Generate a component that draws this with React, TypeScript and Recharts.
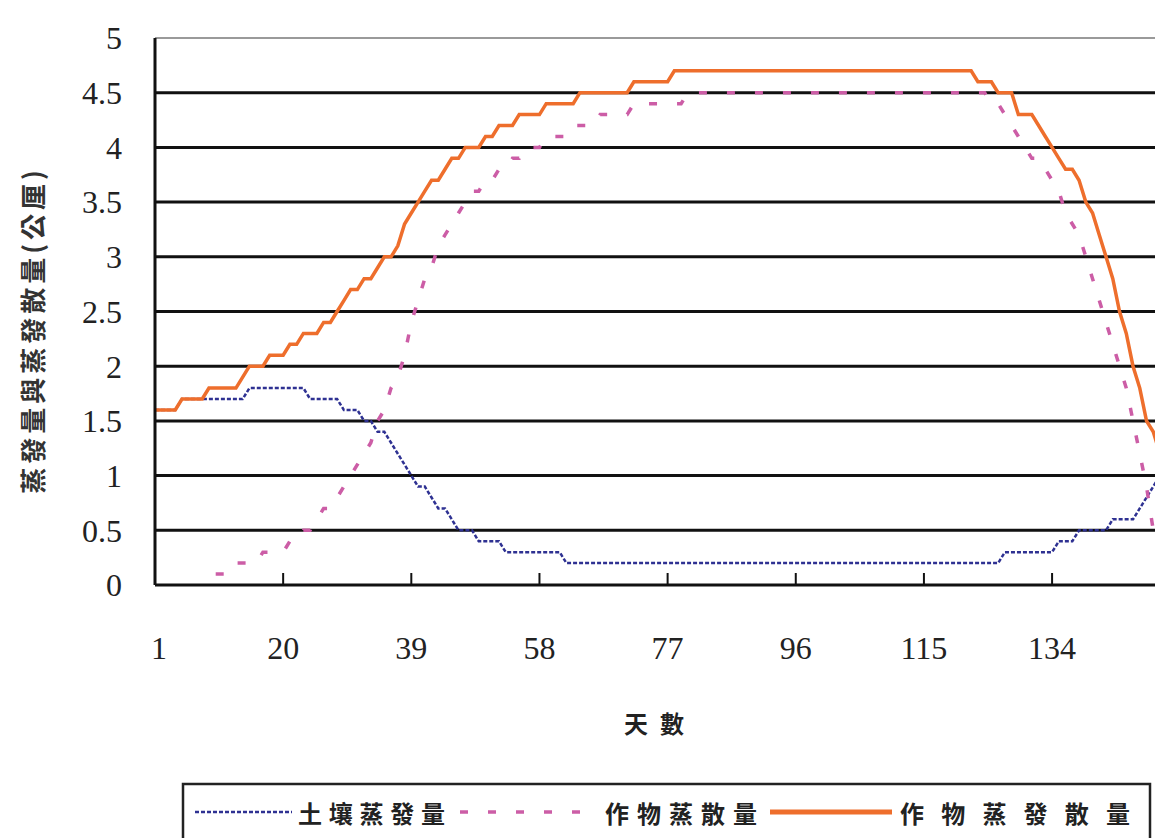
import React from "react";
import {
  LineChart,
  Line,
  XAxis,
  YAxis,
  ReferenceLine,
} from "recharts";

// 土壤蒸發量 (soil evaporation), one value per day starting at day 1
const soilEvap = [
  1.6, 1.6, 1.6, 1.6, 1.7, 1.7, 1.7, 1.7, 1.7, 1.7,
  1.7, 1.7, 1.7, 1.7, 1.8, 1.8, 1.8, 1.8, 1.8, 1.8,
  1.8, 1.8, 1.8, 1.7, 1.7, 1.7, 1.7, 1.7, 1.6, 1.6,
  1.6, 1.5, 1.5, 1.4, 1.4, 1.3, 1.2, 1.1, 1.0, 0.9,
  0.9, 0.8, 0.7, 0.7, 0.6, 0.5, 0.5, 0.5, 0.4, 0.4,
  0.4, 0.4, 0.3, 0.3, 0.3, 0.3, 0.3, 0.3, 0.3, 0.3,
  0.3, 0.2, 0.2, 0.2, 0.2, 0.2, 0.2, 0.2, 0.2, 0.2,
  0.2, 0.2, 0.2, 0.2, 0.2, 0.2, 0.2, 0.2, 0.2, 0.2,
  0.2, 0.2, 0.2, 0.2, 0.2, 0.2, 0.2, 0.2, 0.2, 0.2,
  0.2, 0.2, 0.2, 0.2, 0.2, 0.2, 0.2, 0.2, 0.2, 0.2,
  0.2, 0.2, 0.2, 0.2, 0.2, 0.2, 0.2, 0.2, 0.2, 0.2,
  0.2, 0.2, 0.2, 0.2, 0.2, 0.2, 0.2, 0.2, 0.2, 0.2,
  0.2, 0.2, 0.2, 0.2, 0.2, 0.2, 0.3, 0.3, 0.3, 0.3,
  0.3, 0.3, 0.3, 0.3, 0.4, 0.4, 0.4, 0.5, 0.5, 0.5,
  0.5, 0.5, 0.6, 0.6, 0.6, 0.6, 0.7, 0.8, 0.9, 1.0,
];

// 作物蒸散量 (crop transpiration)
const cropTransp: (number | null)[] = [
  null, null, null, null, null, null, null, null, null, 0.1,
  0.1, 0.1, 0.2, 0.2, 0.2, 0.2, 0.3, 0.3, 0.3, 0.3,
  0.4, 0.4, 0.5, 0.5, 0.6, 0.7, 0.7, 0.8, 0.9, 1.0,
  1.1, 1.2, 1.3, 1.5, 1.6, 1.8, 1.9, 2.1, 2.4, 2.6,
  2.8, 2.9, 3.1, 3.2, 3.3, 3.4, 3.5, 3.6, 3.6, 3.7,
  3.7, 3.8, 3.8, 3.9, 3.9, 4.0, 4.0, 4.0, 4.1, 4.1,
  4.1, 4.1, 4.2, 4.2, 4.2, 4.2, 4.3, 4.3, 4.3, 4.3,
  4.3, 4.4, 4.4, 4.4, 4.4, 4.4, 4.4, 4.4, 4.4, 4.5,
  4.5, 4.5, 4.5, 4.5, 4.5, 4.5, 4.5, 4.5, 4.5, 4.5,
  4.5, 4.5, 4.5, 4.5, 4.5, 4.5, 4.5, 4.5, 4.5, 4.5,
  4.5, 4.5, 4.5, 4.5, 4.5, 4.5, 4.5, 4.5, 4.5, 4.5,
  4.5, 4.5, 4.5, 4.5, 4.5, 4.5, 4.5, 4.5, 4.5, 4.5,
  4.5, 4.5, 4.5, 4.5, 4.4, 4.4, 4.3, 4.2, 4.1, 4.0,
  3.9, 3.9, 3.8, 3.7, 3.6, 3.4, 3.3, 3.2, 3.0, 2.8,
  2.6, 2.4, 2.2, 2.0, 1.8, 1.5, 1.2, 0.9, 0.5, 0.3,
];

// 作物蒸發散量 (crop evapotranspiration)
const cropET = [
  1.6, 1.6, 1.6, 1.6, 1.7, 1.7, 1.7, 1.7, 1.8, 1.8,
  1.8, 1.8, 1.8, 1.9, 2.0, 2.0, 2.0, 2.1, 2.1, 2.1,
  2.2, 2.2, 2.3, 2.3, 2.3, 2.4, 2.4, 2.5, 2.6, 2.7,
  2.7, 2.8, 2.8, 2.9, 3.0, 3.0, 3.1, 3.3, 3.4, 3.5,
  3.6, 3.7, 3.7, 3.8, 3.9, 3.9, 4.0, 4.0, 4.0, 4.1,
  4.1, 4.2, 4.2, 4.2, 4.3, 4.3, 4.3, 4.3, 4.4, 4.4,
  4.4, 4.4, 4.4, 4.5, 4.5, 4.5, 4.5, 4.5, 4.5, 4.5,
  4.5, 4.6, 4.6, 4.6, 4.6, 4.6, 4.6, 4.7, 4.7, 4.7,
  4.7, 4.7, 4.7, 4.7, 4.7, 4.7, 4.7, 4.7, 4.7, 4.7,
  4.7, 4.7, 4.7, 4.7, 4.7, 4.7, 4.7, 4.7, 4.7, 4.7,
  4.7, 4.7, 4.7, 4.7, 4.7, 4.7, 4.7, 4.7, 4.7, 4.7,
  4.7, 4.7, 4.7, 4.7, 4.7, 4.7, 4.7, 4.7, 4.7, 4.7,
  4.7, 4.7, 4.6, 4.6, 4.6, 4.5, 4.5, 4.5, 4.3, 4.3,
  4.3, 4.2, 4.1, 4.0, 3.9, 3.8, 3.8, 3.7, 3.5, 3.4,
  3.2, 3.0, 2.8, 2.5, 2.3, 2.0, 1.8, 1.5, 1.4, 1.2,
];

const xTicks = [1, 20, 39, 58, 77, 96, 115, 134];
const yTicks = [0, 0.5, 1, 1.5, 2, 2.5, 3, 3.5, 4, 4.5, 5];

const seriesNames = ["土壤蒸發量", "作物蒸散量", "作物蒸發散量"];
const yTitle = "蒸發量與蒸發散量(公厘)";
const xTitle = "天數";

const BLUE = "#2E3192";
const PINK = "#CC5DA6";
const ORANGE = "#EE6E2C";

const rows = cropET.map((v, i) => ({
  day: i + 1,
  soil: soilEvap[i],
  transp: cropTransp[i],
  et: v,
}));

const SERIF = "'Liberation Serif', 'Times New Roman', serif";
const CJK = "'Noto Sans CJK TC', 'Noto Sans CJK SC', sans-serif";

function XTick(props: any) {
  const { x, y, payload } = props;
  return (
    <g>
      {payload.value !== 1 && (
        <line x1={x} x2={x} y1={y} y2={y - 12} stroke="#111" strokeWidth={2} />
      )}
      <text
        x={payload.value === 1 ? x + 4 : x}
        y={y + 63}
        textAnchor="middle"
        dominantBaseline="central"
        fontFamily={SERIF}
        fontSize={32}
        fill="#222"
      >
        {payload.value}
      </text>
    </g>
  );
}

function YTitle() {
  return (
    <text
      transform="translate(31,330) rotate(-90)"
      textAnchor="middle"
      dominantBaseline="central"
      fontFamily={CJK}
      fontWeight={700}
      fontSize={26}
      letterSpacing={4}
      fill="#333"
    >
      {yTitle}
    </text>
  );
}

function XTitle() {
  return (
    <text
      x={660}
      y={722}
      textAnchor="middle"
      dominantBaseline="central"
      fontFamily={CJK}
      fontWeight={700}
      fontSize={24}
      letterSpacing={12}
      fill="#222"
    >
      {xTitle}
    </text>
  );
}

function LegendBox() {
  const textProps = {
    fontFamily: CJK,
    fontWeight: 700,
    fontSize: 24,
    fill: "#222",
    dominantBaseline: "central" as const,
    lengthAdjust: "spacing",
  };
  return (
    <svg
      width={1155}
      height={838}
      style={{ position: "absolute", left: 0, top: 0, pointerEvents: "none" }}
    >
      <rect x={183} y={784} width={967} height={90} fill="#fff" stroke="#222" strokeWidth={2.5} />
      <line x1={195} x2={292} y1={812} y2={812} stroke={BLUE} strokeWidth={2.5} strokeDasharray="4 2" />
      <text x={298} y={812} textLength={147} {...textProps}>{seriesNames[0]}</text>
      <line x1={460} x2={598} y1={812} y2={812} stroke={PINK} strokeWidth={3.5} strokeDasharray="8 20" />
      <text x={605} y={812} textLength={152} {...textProps}>{seriesNames[1]}</text>
      <line x1={770} x2={892} y1={812} y2={812} stroke={ORANGE} strokeWidth={5} />
      <text x={900} y={812} textLength={230} {...textProps}>{seriesNames[2]}</text>
    </svg>
  );
}

export default function App() {
  const gridValues = yTicks.filter((t) => t > 0 && t < 5);
  return (
    <div
      style={{
        position: "absolute",
        left: 0,
        top: 0,
        width: 1155,
        height: 838,
        overflow: "hidden",
        background: "#fff",
      }}
    >
      <LineChart
        width={1160}
        height={838}
        data={rows}
        margin={{ top: 38, right: 0, bottom: 193, left: 0 }}
      >
        <XAxis
          dataKey="day"
          type="number"
          domain={[1, 150]}
          ticks={xTicks}
          allowDataOverflow
          interval={0}
          height={60}
          tickSize={0}
          tickMargin={0}
          tickLine={false}
          tick={<XTick />}
          axisLine={{ stroke: "#111", strokeWidth: 3 }}
          label={<XTitle />}
        />
        <YAxis
          type="number"
          domain={[0, 5]}
          ticks={yTicks}
          interval={0}
          width={155}
          tickSize={0}
          tickMargin={33}
          tickLine={false}
          axisLine={{ stroke: "#111", strokeWidth: 3 }}
          tick={{ fontFamily: SERIF, fontSize: 32, fill: "#222" }}
          label={<YTitle />}
        />
        {gridValues.map((v) => (
          <ReferenceLine key={v} y={v} stroke="#111" strokeWidth={3} />
        ))}
        <ReferenceLine y={5} stroke="#9a9a9a" strokeWidth={2} />
        <Line
          dataKey="soil"
          stroke={BLUE}
          strokeWidth={2.5}
          strokeDasharray="4 2"
          dot={false}
          isAnimationActive={false}
        />
        <Line
          dataKey="transp"
          stroke={PINK}
          strokeWidth={3.5}
          strokeDasharray="8 20"
          dot={false}
          isAnimationActive={false}
        />
        <Line
          dataKey="et"
          stroke={ORANGE}
          strokeWidth={3.5}
          dot={false}
          isAnimationActive={false}
        />
      </LineChart>
      <LegendBox />
    </div>
  );
}
